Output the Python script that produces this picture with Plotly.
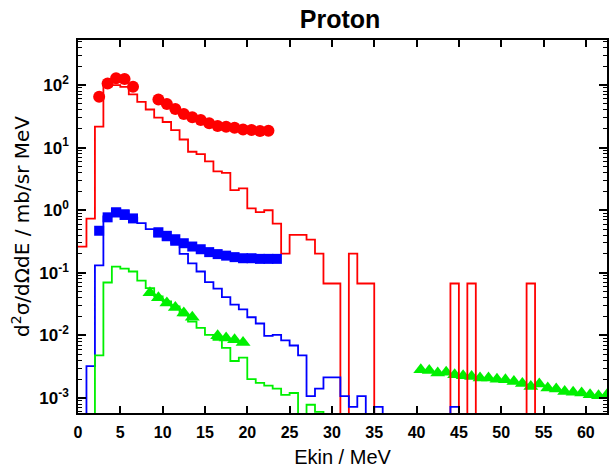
import numpy as np
import plotly.graph_objects as go

# ---------------- data (1 MeV bins starting at 0 MeV) ----------------
red_hist = [0.263, 0.733, 21.6, 95.5, 100, 93.3, 70.8, 53.7, 40.7, 30.2,
            25.7, 19.1, 13.5, 8.6, 7.85, 6.03, 4.17, 3.94, 2.09, 2.24,
            1.07, 0.93, 1.0, 0.61, 0.203, 0.405, 0.405, 0.338, 0.203, 0.0675,
            0.0675, 0, 0.203, 0.0675, 0.0675, 0, 0, 0, 0, 0,
            0, 0, 0, 0, 0.0675, 0, 0.0675, 0, 0, 0,
            0, 0, 0, 0.0675, 0, 0, 0, 0, 0, 0,
            0, 0, 0]
blue_hist = [0, 0.00324, 0.131, 0.80, 1.07, 1.0, 0.76, 0.62, 0.50, 0.38,
             0.33, 0.28, 0.20, 0.141, 0.105, 0.071, 0.056, 0.041, 0.031, 0.026,
             0.0195, 0.0155, 0.0098, 0.0102, 0.0083, 0.0069, 0.0048, 0.00107, 0.00141, 0.00214,
             0.00214, 0.00107, 0.00072, 0.00107, 0, 0.00072, 0, 0, 0, 0,
             0, 0, 0, 0, 0.00072, 0, 0, 0, 0, 0,
             0, 0, 0, 0, 0, 0, 0, 0, 0, 0,
             0, 0, 0]
green_hist = [0, 0, 0.0048, 0.070, 0.126, 0.117, 0.105, 0.075, 0.057, 0.042,
              0.035, 0.029, 0.021, 0.0166, 0.0132, 0.0102, 0.0085, 0.0063, 0.0039, 0.0044,
              0.0020, 0.00174, 0.00158, 0.00141, 0.00112, 0.0012, 0, 0.00078, 0.0006, 0,
              0, 0, 0, 0, 0, 0, 0, 0, 0, 0,
              0, 0, 0, 0, 0, 0, 0, 0, 0, 0,
              0, 0, 0, 0, 0, 0, 0, 0, 0, 0,
              0, 0, 0]

red_pts_x = [2.5, 3.5, 4.5, 5.5, 6.5, 9.5, 10.5, 11.5, 12.5, 13.5,
             14.5, 15.5, 16.5, 17.5, 18.5, 19.5, 20.5, 21.5, 22.5]
red_pts_y = [65, 106, 128, 125, 94, 59, 50, 41.4, 34.4, 30.5,
             27.6, 24.5, 22.2, 21.6, 20.8, 19.5, 19.1, 18.4, 18.6]

blue_pts_x = [2.5, 3.5, 4.5, 5.5, 6.5, 9.5, 10.5, 11.5, 12.5, 13.5,
              14.5, 15.5, 16.5, 17.5, 18.5, 19.5, 20.5, 21.5, 22.5, 23.5]
blue_pts_y = [0.47, 0.77, 0.92, 0.84, 0.74, 0.445, 0.39, 0.344, 0.297, 0.263,
              0.238, 0.214, 0.199, 0.188, 0.178, 0.171, 0.171, 0.167, 0.167, 0.167]

green_pts_x = [8.5, 9.5, 10.5, 11.5, 12.5, 13.5, 16.5, 17.5, 18.5, 19.5,
               40.5, 41.5, 42.5, 43.5, 44.5, 45.5, 46.5, 47.5, 48.5, 49.5,
               50.5, 51.5, 52.5, 53.5, 54.5, 55.5, 56.5, 57.5, 58.5, 59.5,
               60.5, 61.5, 62.5]
green_pts_y = [0.048, 0.040, 0.033, 0.028, 0.0227, 0.0195, 0.0099, 0.0091, 0.0085, 0.0077,
               0.00282, 0.00275, 0.00251, 0.00257, 0.00234, 0.00226, 0.00221, 0.00209, 0.00209, 0.00200,
               0.00195, 0.00184, 0.00170, 0.00153, 0.00167, 0.00145, 0.00139, 0.00127, 0.00123, 0.00120,
               0.00113, 0.00109, 0.00113]

x_ticks = [0, 5, 10, 15, 20, 25, 30, 35, 40, 45, 50, 55, 60]
y_ticks = [1e-3, 1e-2, 1e-1, 1e0, 1e1, 1e2]
y_ticktext = ['10<sup>-3</sup>', '10<sup>-2</sup>', '10<sup>-1</sup>',
              '10<sup>0</sup>', '10<sup>1</sup>', '10<sup>2</sup>']

RED, BLUE, GREEN = '#ff0000', '#0000ff', '#00f000'
FLOOR = 1e-7  # empty bins drawn below the visible range


def step_trace(values, color):
    edges = np.arange(len(values) + 1) * 1.0
    y = [v if v > 0 else FLOOR for v in values]
    y = y + [y[-1]]
    return go.Scatter(x=edges, y=y, mode='lines', line=dict(color=color, width=1.8, shape='hv'),
                      hoverinfo='skip', showlegend=False)


fig = go.Figure()
fig.add_trace(go.Scatter(x=green_pts_x, y=green_pts_y, mode='markers',
                         marker=dict(symbol='triangle-up', size=13, color=GREEN), showlegend=False))
fig.add_trace(step_trace(red_hist, RED))
fig.add_trace(step_trace(blue_hist, BLUE))
fig.add_trace(step_trace(green_hist, GREEN))
fig.add_trace(go.Scatter(x=red_pts_x, y=red_pts_y, mode='markers',
                         marker=dict(symbol='circle', size=12, color=RED), showlegend=False))
fig.add_trace(go.Scatter(x=blue_pts_x, y=blue_pts_y, mode='markers',
                         marker=dict(symbol='square', size=10, color=BLUE), showlegend=False))

minor_vals = [m * 10.0 ** d for d in range(-4, 3) for m in range(2, 10)]

fig.update_layout(
    width=611, height=468,
    margin=dict(l=78, r=2, t=40, b=55),
    paper_bgcolor='white', plot_bgcolor='white',
    font=dict(family='Liberation Sans, Arial, sans-serif', color='black'),
    title=dict(text='<b>Proton</b>', font=dict(size=25, color='black'),
               x=(341 - 78) / (609 - 78), xref='paper', xanchor='center',
               y=1 - 19 / 468, yanchor='middle'),
    xaxis=dict(range=[0, 62.5], tickmode='array', tickvals=x_ticks,
               ticks='inside', ticklen=7, tickwidth=1.5, tickcolor='black',
               showline=True, linecolor='black', linewidth=1.5, mirror='allticks',
               showgrid=False, zeroline=False, ticklabelstandoff=4,
               tickfont=dict(size=16, weight='bold'),
               title=dict(text='Ekin / MeV', font=dict(size=20), standoff=11)),
    yaxis=dict(type='log', range=[-3.24, 2.72], tickmode='array', tickvals=y_ticks,
               ticktext=y_ticktext, ticks='inside', ticklen=8, tickwidth=1.5, tickcolor='black',
               minor=dict(tickmode='array', tickvals=minor_vals, ticks='inside', ticklen=4,
                          tickwidth=1, tickcolor='black', showgrid=False),
               showline=True, linecolor='black', linewidth=1.5, mirror='allticks',
               showgrid=False, zeroline=False, ticklabelstandoff=4,
               tickfont=dict(size=17, weight='bold'),
               title=dict(text='d<sup>2</sup>σ/dΩdE / mb/sr MeV',
                          font=dict(size=20, family='DejaVu Sans'), standoff=4)),
)

fig.write_html('out.html')
